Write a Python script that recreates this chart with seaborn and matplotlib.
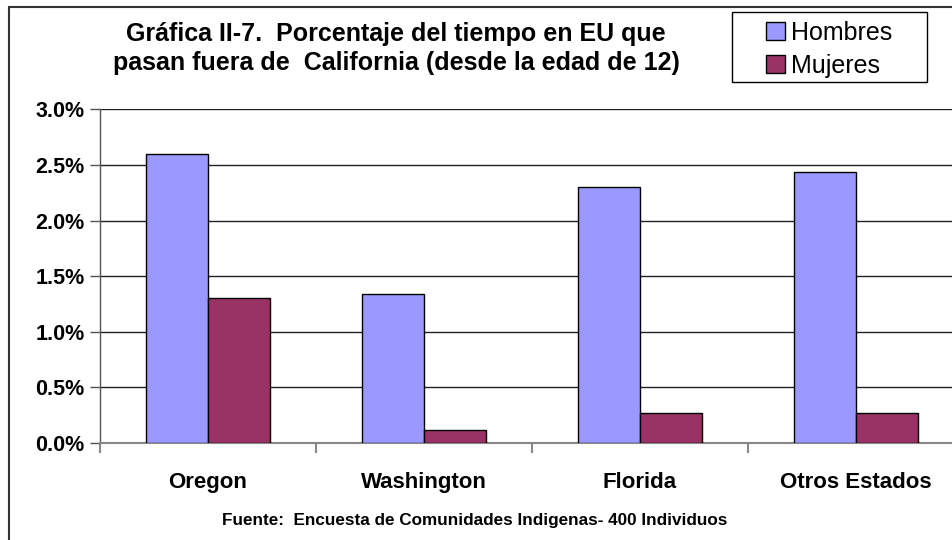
import matplotlib
matplotlib.use("Agg")
import matplotlib.pyplot as plt
import seaborn as sns
import pandas as pd
from matplotlib.patches import Rectangle
from matplotlib.ticker import FuncFormatter, FixedLocator

categories = ["Oregon", "Washington", "Florida", "Otros Estados"]
hombres = [2.6, 1.34, 2.3, 2.44]
mujeres = [1.3, 0.12, 0.27, 0.27]
series = ["Hombres", "Mujeres"]
yticks = [0.0, 0.5, 1.0, 1.5, 2.0, 2.5, 3.0]
title = "Gráfica II-7.  Porcentaje del tiempo en EU que\npasan fuera de  California (desde la edad de 12)"
source = "Fuente:  Encuesta de Comunidades Indigenas- 400 Individuos"

df = pd.DataFrame({
    "Estado": categories * 2,
    "Sexo": [series[0]] * 4 + [series[1]] * 4,
    "Valor": hombres + mujeres,
})

sns.set_style("white")
plt.rcParams["font.family"] = ["Liberation Sans", "DejaVu Sans"]
plt.rcParams["text.color"] = "black"
plt.rcParams["xtick.color"] = "black"
plt.rcParams["ytick.color"] = "black"

W, H = 952, 540
fig = plt.figure(figsize=(W / 100, H / 100), dpi=100)
fig.patch.set_facecolor("white")

# axes spanning x 100..964 px, y 109..443 px
ax = fig.add_axes([100 / W, (H - 443) / H, 864 / W, (443 - 109.4) / H])
sns.barplot(data=df, x="Estado", y="Valor", hue="Sexo", order=categories,
            hue_order=series, palette=["#9999FF", "#993366"], width=0.575,
            saturation=1, edgecolor="black", linewidth=1.0, ax=ax,
            legend=False, zorder=3)

ax.set_xlim(-0.5, 3.5)
ax.set_ylim(0, 3.0)
ax.yaxis.set_major_locator(FixedLocator(yticks))
ax.yaxis.set_major_formatter(FuncFormatter(lambda v, p: f"{v:.1f}%"))
ax.grid(axis="y", color="#202020", linewidth=1.0, zorder=0)
ax.set_axisbelow(True)
for s in ["top", "right"]:
    ax.spines[s].set_visible(False)
ax.spines["left"].set_color("#555555")
ax.spines["left"].set_linewidth(1.0)
ax.spines["bottom"].set_color("#888888")
ax.spines["bottom"].set_linewidth(1.5)
ax.set_xlabel("")
ax.set_ylabel("")

ax.tick_params(axis="y", which="major", left=True, length=7, width=1,
               color="#555555", labelcolor="black", labelsize=15.5, pad=4)
for lbl in ax.get_yticklabels():
    lbl.set_fontweight("bold")

# x ticks at category boundaries, labels at centers
ax.set_xticks([-0.5, 0.5, 1.5, 2.5, 3.5])
ax.set_xticklabels([])
ax.tick_params(axis="x", which="major", bottom=True, length=7, width=1.5,
               color="#888888")
ax.set_xticks(range(len(categories)), minor=True)
ax.set_xticklabels(categories, minor=True, fontsize=16, fontweight="bold",
                   color="black")
ax.tick_params(axis="x", which="minor", bottom=False, length=0, pad=21)

# Title
fig.text(396 / W, 1 - 48.5 / H, title, ha="center", va="center",
         fontsize=18, fontweight="bold", linespacing=1.3)

# Legend (frameless, with a separate box)
handles = [Rectangle((0, 0), 1, 1, facecolor=c, edgecolor="black", linewidth=1)
           for c in ["#9999FF", "#993366"]]
leg = fig.legend(handles, series, loc="upper left",
                 bbox_to_anchor=(766 / W, 1 - 21 / H), frameon=False,
                 fontsize=18, handlelength=0.75, handleheight=0.75,
                 handletextpad=0.25, labelspacing=0.35, borderpad=0,
                 borderaxespad=0)
fig.patches.append(Rectangle((732 / W, 1 - 82 / H), 195 / W, 70 / H,
                             transform=fig.transFigure, fill=True,
                             facecolor="white", edgecolor="black",
                             linewidth=1.0, zorder=0))

# Source
fig.text(475 / W, 1 - 521 / H, source, ha="center", va="center",
         fontsize=12.3, fontweight="bold")

# Outer frame (clipped at right/bottom)
fig.patches.append(Rectangle((8.5 / W, -0.1), 1.2, 1 - 6.5 / H + 0.1,
                             transform=fig.transFigure, fill=False,
                             edgecolor="#333333", linewidth=1.5))

fig.savefig("out.png", dpi=100)
